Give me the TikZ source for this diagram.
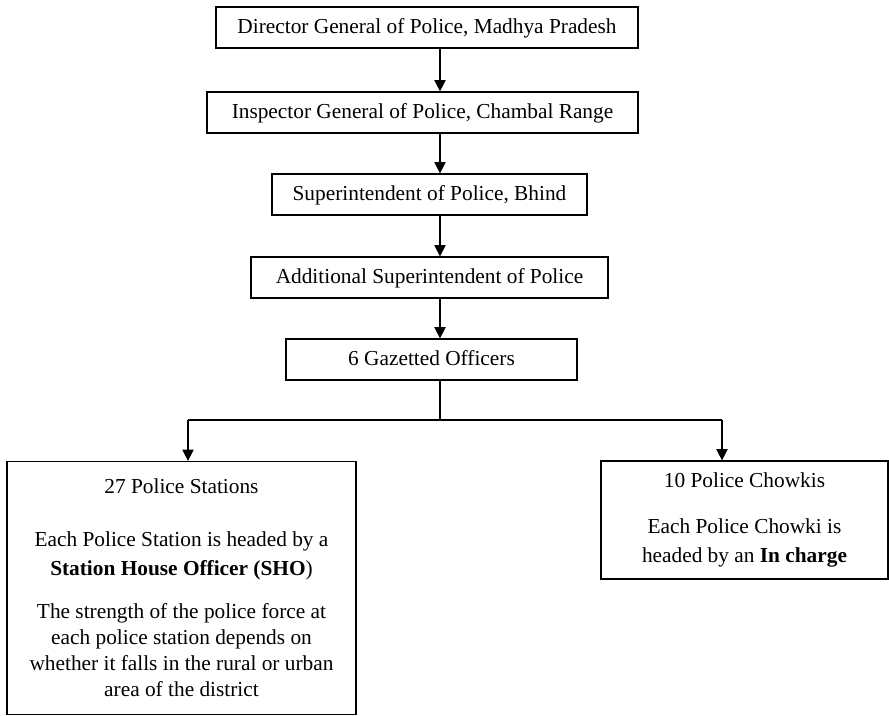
\documentclass[tikz,border=0pt]{standalone}
\usepackage{fontspec}
\setmainfont{Liberation Serif}
\usetikzlibrary{arrows.meta}
\begin{document}
\begin{tikzpicture}[x=0.75pt,y=-0.75pt,
  rank/.style={draw, line width=0.9pt, rectangle, inner sep=0pt,
    minimum height=30.75pt, text height=11.5pt, text depth=2.5pt,
    font=\fontsize{16pt}{19.5pt}\selectfont},
  unitbox/.style={draw, line width=0.9pt, rectangle, inner sep=0pt,
    align=center, font=\fontsize{16pt}{19.5pt}\selectfont},
  link/.style={line width=0.9pt},
  arr/.style={line width=0.9pt, -{Triangle[width=8.5pt,length=8.5pt]}}]
  \useasboundingbox (0,0) rectangle (889,716);

  % chain of command
  \node[rank, minimum width=316.5pt]  (dgp) at (427,27.5)   {Director General of Police, Madhya Pradesh};
  \node[rank, minimum width=323.25pt] (igp) at (422.5,112.5) {Inspector General of Police, Chambal Range};
  \node[rank, minimum width=236.25pt] (sp)  at (429.5,194.5) {Superintendent of Police, Bhind};
  \node[rank, minimum width=267.75pt] (asp) at (429.5,277.5) {Additional Superintendent of Police};
  \node[rank, minimum width=218.25pt] (go)  at (431.5,359.5) {6 Gazetted Officers};

  % field units
  \node[unitbox, minimum width=261.75pt, minimum height=189.75pt] (ps) at (181.5,588)
    {27 Police Stations\\[20pt]
     Each Police Station is headed by a\\[2pt]
     \textbf{Station House Officer (SHO})\\[13pt]
     The strength of the police force at\\
     each police station depends on\\
     whether it falls in the rural or urban\\
     area of the district};
  \node[unitbox, minimum width=215.25pt, minimum height=88.5pt] (pc) at (744.5,520)
    {10 Police Chowkis\\[15pt]
     Each Police Chowki is\\[2pt]
     headed by an \textbf{In charge}};

  % connectors
  \coordinate (ax) at (440,0);
  \draw[arr] (dgp.south -| ax) -- (igp.north -| ax);
  \draw[arr] (igp.south -| ax) -- (sp.north -| ax);
  \draw[arr] (sp.south -| ax) -- (asp.north -| ax);
  \draw[arr] (asp.south -| ax) -- (go.north -| ax);

  \coordinate (j)  at (440,420);
  \coordinate (jl) at (188,420);
  \coordinate (jr) at (722,420);
  \draw[link] (go.south -| ax) -- (j);
  \draw[link] (jl) -- (jr);
  \draw[arr] (jl) -- (ps.north -| jl);
  \draw[arr] (jr) -- (pc.north -| jr);
\end{tikzpicture}
\end{document}
